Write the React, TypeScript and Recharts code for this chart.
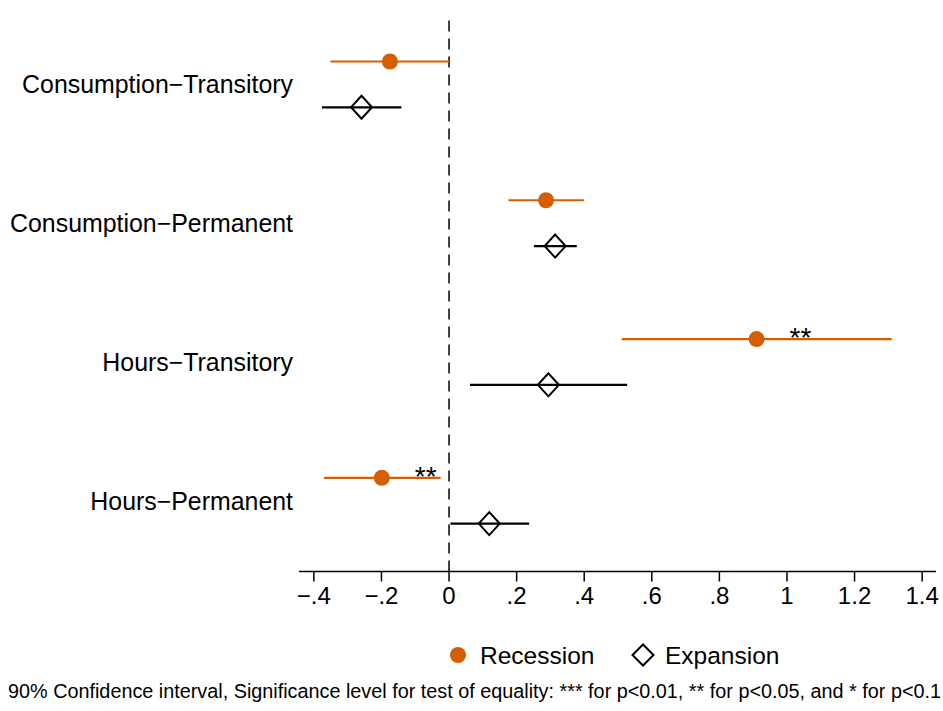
import { ScatterChart, Scatter, XAxis, YAxis, ErrorBar, ReferenceLine } from "recharts";

const FONT = "'Liberation Sans', Arial, Helvetica, sans-serif";
const ORANGE = "#d55e00";

// rows, top to bottom
const CATEGORIES = [
  "Consumption−Transitory",
  "Consumption−Permanent",
  "Hours−Transitory",
  "Hours−Permanent"
];

// point estimates and 90% confidence bounds
const RECESSION_EST = [-0.175, 0.287, 0.91, -0.199];
const RECESSION_LO = [-0.351, 0.176, 0.511, -0.37];
const RECESSION_HI = [0.0, 0.4, 1.31, -0.025];
const RECESSION_SIG = ["", "", "**", "**"];

const EXPANSION_EST = [-0.259, 0.314, 0.294, 0.119];
const EXPANSION_LO = [-0.376, 0.251, 0.062, 0.004];
const EXPANSION_HI = [-0.141, 0.378, 0.527, 0.237];

const X_TICKS = [-0.4, -0.2, 0, 0.2, 0.4, 0.6, 0.8, 1, 1.2, 1.4];

const ROW_SHIFT = 0.165;

const rowY = (i: number) => CATEGORIES.length - i;

// ErrorBar wants [below, above] distances from the estimate
const recessionData = CATEGORIES.map((name, i) => ({
  name,
  x: RECESSION_EST[i],
  y: rowY(i) + ROW_SHIFT,
  ci: [RECESSION_EST[i] - RECESSION_LO[i], RECESSION_HI[i] - RECESSION_EST[i]],
  sig: RECESSION_SIG[i]
}));

const expansionData = CATEGORIES.map((name, i) => ({
  name,
  x: EXPANSION_EST[i],
  y: rowY(i) - ROW_SHIFT,
  ci: [EXPANSION_EST[i] - EXPANSION_LO[i], EXPANSION_HI[i] - EXPANSION_EST[i]]
}));

const formatX = (v: number) => {
  if (v === 0) return "0";
  if (Number.isInteger(v)) return String(v);
  const s = Math.abs(v).toFixed(1).replace(/^0/, "");
  return v < 0 ? "−" + s : s;
};

function RecessionDot(props: any) {
  const { cx, cy, payload } = props;
  return (
    <g>
      <circle cx={cx} cy={cy} r={8} fill={ORANGE} />
      {payload.sig ? (
        <text x={cx + 33} y={cy} dy="0.3em" fontSize={28} fontFamily={FONT} fill="#000">
          {payload.sig}
        </text>
      ) : null}
    </g>
  );
}

function ExpansionDiamond(props: any) {
  const { cx, cy } = props;
  const w = 10.5;
  const h = 11.5;
  return (
    <polygon
      points={`${cx},${cy - h} ${cx + w},${cy} ${cx},${cy + h} ${cx - w},${cy}`}
      fill="none"
      stroke="#000"
      strokeWidth={2}
    />
  );
}

function LegendRow() {
  return (
    <svg width={943} height={711} style={{ position: "absolute", left: 0, top: 0, pointerEvents: "none" }}>
      <circle cx={458} cy={655} r={8} fill={ORANGE} />
      <text x={480} y={664} fontSize={24.5} fontFamily={FONT} fill="#000">
        Recession
      </text>
      <polygon points="643,644.5 653.5,655 643,665.5 632.5,655" fill="none" stroke="#000" strokeWidth={2} />
      <text x={665} y={664} fontSize={24.5} fontFamily={FONT} fill="#000">
        Expansion
      </text>
      <text
        x={8}
        y={697.5}
        fontSize={19.5}
        fontFamily={FONT}
        fill="#000"
        textLength={933}
        lengthAdjust="spacingAndGlyphs"
      >
        90% Confidence interval, Significance level for test of equality: *** for p&lt;0.01, ** for p&lt;0.05, and * for p&lt;0.1
      </text>
    </svg>
  );
}

export default function App() {
  return (
    <div style={{ position: "absolute", left: 0, top: 0, width: 943, height: 711, background: "#fff" }}>
      <ScatterChart width={943} height={711} margin={{ top: 15, right: 7, bottom: 99.5, left: 0 }}>
        <XAxis
          type="number"
          dataKey="x"
          domain={[-0.444, 1.441]}
          allowDataOverflow
          ticks={X_TICKS}
          tickFormatter={formatX}
          height={40}
          tickSize={10}
          tickMargin={5}
          stroke="#000"
          strokeWidth={1.5}
          tick={{ fill: "#000", fontSize: 24, fontFamily: FONT }}
        />
        <YAxis
          type="number"
          dataKey="y"
          domain={[0.49, 4.5]}
          allowDataOverflow
          ticks={[1, 2, 3, 4]}
          tickFormatter={(v: number) => CATEGORIES[CATEGORIES.length - v]}
          width={299}
          axisLine={false}
          tickLine={false}
          tickSize={0}
          tickMargin={6}
          tick={{ fill: "#000", fontSize: 24.9, fontFamily: FONT }}
        />
        <ReferenceLine x={0} stroke="#000" strokeWidth={1.5} strokeDasharray="11 7" />
        <Scatter data={recessionData} dataKey="x" shape={RecessionDot} isAnimationActive={false}>
          <ErrorBar direction="x" dataKey="ci" width={0} stroke={ORANGE} strokeWidth={2.2} isAnimationActive={false} />
        </Scatter>
        <Scatter data={expansionData} dataKey="x" shape={ExpansionDiamond} isAnimationActive={false}>
          <ErrorBar direction="x" dataKey="ci" width={0} stroke="#000" strokeWidth={2.2} isAnimationActive={false} />
        </Scatter>
      </ScatterChart>
      <LegendRow />
    </div>
  );
}
